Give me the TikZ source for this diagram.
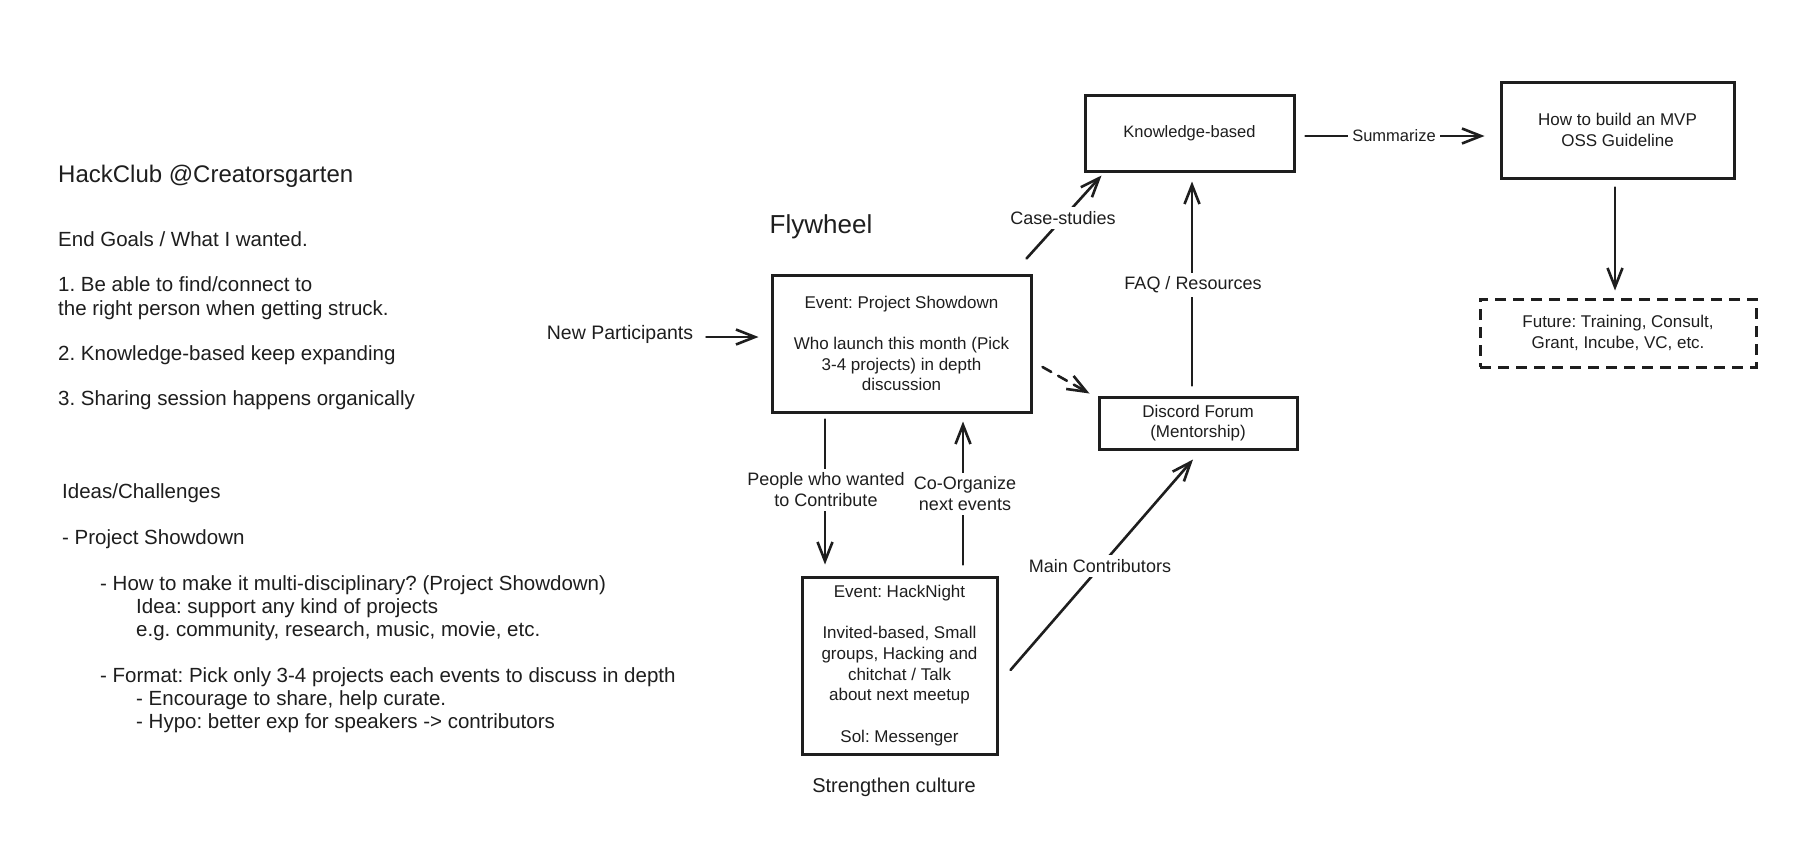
\documentclass[tikz,border=0pt]{standalone}
\usepackage{fontspec}
\setmainfont{Liberation Sans}
\frenchspacing
\usetikzlibrary{arrows.meta,calc}
\definecolor{ink}{HTML}{1E1E1E}
\pgfdeclarelayer{bg}
\pgfdeclarelayer{paper}
\pgfsetlayers{paper,bg,main}
\begin{document}
\begin{tikzpicture}[x=1pt,y=-1pt,
  every node/.style={text=ink, inner sep=0pt},
  lefttxt/.style={anchor=west, font=\fontsize{20.5}{23}\selectfont, text height=0.72em, text depth=0.22em},
  boxtxt/.style={font=\fontsize{17}{20.7}\selectfont, align=center},
  card/.style={draw=ink, line width=3pt, boxtxt},
  lbl/.style={fill=white, inner sep=4pt, align=center, font=\fontsize{18}{21}\selectfont},
  arr/.style={draw=ink, line width=2.6pt, line cap=round, -{Straight Barb[length=19pt,width=15pt]}},
]
\begin{pgfonlayer}{paper}
\fill[white] (0,0) rectangle (1820,854);
\end{pgfonlayer}
\useasboundingbox (0,0) rectangle (1820,854);

% left column text
\node[lefttxt, font=\fontsize{24}{28}\selectfont] (t0) at (58,180) {HackClub @Creatorsgarten};
\node[lefttxt] (t1) at (58,244) {End Goals / What I wanted.};
\node[lefttxt] (t2) at (58,289) {1. Be able to find/connect to};
\node[lefttxt] (t3) at (58,313) {the right person when getting struck.};
\node[lefttxt] (t4) at (58,358) {2. Knowledge-based keep expanding};
\node[lefttxt] (t5) at (58,403) {3. Sharing session happens organically};
\node[lefttxt] (i0) at (62,496) {Ideas/Challenges};
\node[lefttxt] (i1) at (62,542) {- Project Showdown};
\node[lefttxt] (i2) at (100,588) {- How to make it multi-disciplinary? (Project Showdown)};
\node[lefttxt] (i3) at (136,611) {Idea: support any kind of projects};
\node[lefttxt] (i4) at (136,634) {e.g. community, research, music, movie, etc.};
\node[lefttxt] (i5) at (100,680) {- Format: Pick only 3-4 projects each events to discuss in depth};
\node[lefttxt] (i6) at (136,703) {- Encourage to share, help curate.};
\node[lefttxt] (i7) at (136,726) {- Hypo: better exp for speakers -> contributors};

% flywheel
\node[font=\fontsize{26}{30}\selectfont] (fw) at (821,227) {Flywheel};

% boxes
\node[card, minimum width=259pt, minimum height=137pt] (ps) at (901.5,343.5)
  {Event: Project Showdown\\[20.5pt]Who launch this month (Pick\\3-4 projects) in depth\\discussion};
\node[card, minimum width=209pt, minimum height=76pt, font=\fontsize{16.5}{20}\selectfont] (kb) at (1189.5,133) {Knowledge-based};
\node[card, minimum width=233pt, minimum height=96pt] (mvp) at (1617.5,130) {How to build an MVP\\OSS Guideline};
\node[card, dashed, dash pattern=on 11pt off 7pt, minimum width=276pt, minimum height=68pt] (fut) at (1618,333) {Future: Training, Consult,\\Grant, Incube, VC, etc.};
\node[card, minimum width=198pt, minimum height=52pt] (dc) at (1198,423) {Discord Forum\\(Mentorship)};
\node[card, minimum width=195pt, minimum height=177pt] (hn) at (899.5,665.5)
  {Event: HackNight\\[20.7pt]Invited-based, Small\\groups, Hacking and\\chitchat / Talk\\about next meetup\\[20.7pt]Sol: Messenger};

% labels
\node[font=\fontsize{19.5}{23}\selectfont] (np) at (620,334) {New Participants};
\node[font=\fontsize{20}{24}\selectfont] (sc) at (894,787) {Strengthen culture};
\node[lbl] (cs) at (1063,218) {Case-studies};
\node[lbl] (faq) at (1193,285) {FAQ / Resources};
\node[lbl, font=\fontsize{16.5}{20}\selectfont] (sum) at (1394,136) {Summarize};
\node[lbl] (pw) at (826,490) {People who wanted\\to Contribute};
\node[lbl] (co) at (965,494) {Co-Organize\\next events};
\node[lbl] (mc) at (1100,566) {Main Contributors};

% connectors
\begin{pgfonlayer}{bg}
\draw[arr] ($(np.east)+(13,3)$) -- ($(ps.west)+(-12,-6.5)$);
\draw[arr] ($(ps.north east)+(-6,-15)$) -- ($(kb.south west)+(18,3)$);
\draw[arr, dashed, dash pattern=on 10pt off 8pt] ($(ps.east)+(10,23.5)$) -- ($(dc.north west)+(-8,-2)$);
\draw[arr] ($(dc.north)+(-6,-10)$) -- ($(kb.south)+(2.5,9)$);
\draw[arr] ($(kb.east)+(10,3)$) -- ($(mvp.west)+(-15,6)$);
\draw[arr] ($(mvp.south)+(-2.5,8)$) -- ($(fut.north)+(-3,-7)$);
\draw[arr] ($(ps.south)+(-76.5,6)$) -- ($(hn.north)+(-74.5,-11)$);
\draw[arr] ($(hn.north)+(63.5,-11)$) -- ($(ps.south)+(61.5,8)$);
\draw[arr] ($(hn.east)+(12,4.5)$) -- ($(dc.south)+(-5,9)$);
\end{pgfonlayer}
\end{tikzpicture}
\end{document}
